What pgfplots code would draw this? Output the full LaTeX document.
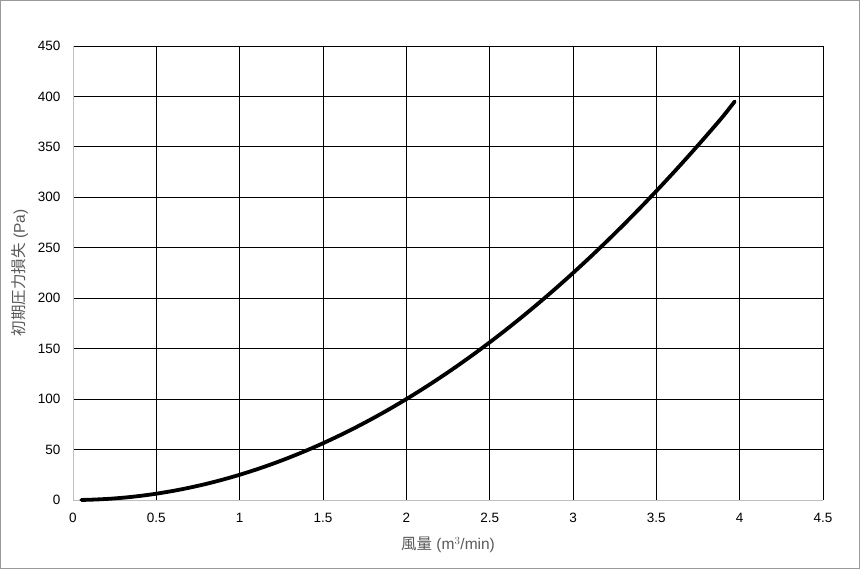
\documentclass[border=0pt]{standalone}
\usepackage{pgfplots}
\pgfplotsset{compat=1.18}
\usepackage{fontspec}
\setmainfont{Liberation Sans}
\newfontfamily\cjk{Noto Sans CJK JP}
\definecolor{axgray}{RGB}{191,191,191}
\definecolor{labgray}{RGB}{89,89,89}
\begin{document}
\begin{tikzpicture}[x=1bp,y=1bp]
\path[use as bounding box] (0,0) rectangle (860,569);
\draw[color=gray!80, line width=1.2bp] (0.6,0.6) rectangle (859.4,568.4);
\begin{axis}[
  at={(73bp,69bp)}, anchor=south west,
  width=750bp, height=454bp, scale only axis,
  xmin=0, xmax=4.5, ymin=0, ymax=450,
  xtick={0,0.5,...,4.5}, ytick={0,50,...,450},
  grid=major,
  major grid style={black, line width=0.8bp},
  axis line style={axgray, line width=0.8bp},
  axis x line*=bottom, axis y line*=left,
  tick style={draw=none},
  ticklabel style={font=\fontsize{13.5bp}{15bp}\selectfont, text=black},
  /pgf/number format/assume math mode=true,
  xticklabel style={yshift=-10bp},
  yticklabel style={xshift=-9bp},
  xlabel={{\cjk 風量} (m$^3$/min)},
  ylabel={{\cjk 初期圧力損失} (Pa)},
  label style={font=\fontsize{15.5bp}{18bp}\selectfont, text=labgray},
  xlabel style={at={(rel axis cs:0.5,0)}, anchor=center, yshift=-45bp},
  ylabel style={at={(rel axis cs:0,0.5)}, anchor=center, yshift=53bp},
  clip=false,
]
\addplot[black, line width=3.8bp, smooth, line cap=round] coordinates {
(0.05,0.06) (0.1,0.25) (0.2,1.0) (0.3,2.25) (0.4,4) (0.5,6.25) (0.6,9) (0.7,12.25)
(0.8,16) (0.9,20.25) (1.0,25) (1.1,30.25) (1.2,36) (1.3,42.25) (1.4,49)
(1.5,56.25) (1.6,64) (1.7,72.25) (1.8,81) (1.9,90.25) (2.0,100) (2.1,110.25)
(2.2,121) (2.3,132.25) (2.4,144) (2.5,156.25) (2.6,169) (2.7,182.25) (2.8,196)
(2.9,210.25) (3.0,225) (3.1,240.25) (3.2,256) (3.3,272.25) (3.4,289)
(3.5,306.25) (3.6,324) (3.7,342.25) (3.8,361) (3.9,380.25) (3.97,395)
};
\end{axis}
\end{tikzpicture}
\end{document}
